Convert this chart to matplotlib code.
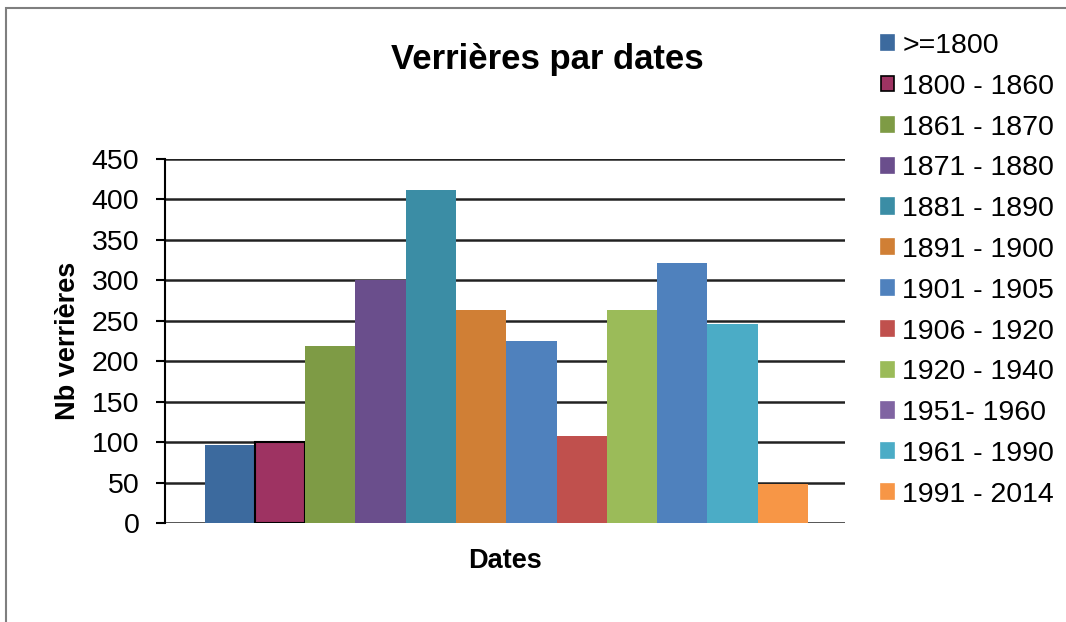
import matplotlib.pyplot as plt
import matplotlib.patches as mpatches
import numpy as np

# ---------------------------------------------------------
# Data
# ---------------------------------------------------------
periods = [">=1800", "1800 - 1860", "1861 - 1870", "1871 - 1880",
           "1881 - 1890", "1891 - 1900", "1901 - 1905", "1906 - 1920",
           "1920 - 1940", "1951- 1960", "1961 - 1990", "1991 - 2014"]
counts = [97, 100, 219, 300, 412, 263, 225, 108, 263, 321, 246, 48]

bar_colors = ["#3C6A9E", "#9E3362", "#7E9B45", "#6A4E8C", "#3B8DA5", "#D07F35",
              "#4F81BD", "#C0504D", "#9BBB59", "#4F81BD", "#4BACC6", "#F79646"]
legend_colors = ["#3C6A9E", "#9E3362", "#7E9B45", "#6A4E8C", "#3B8DA5", "#D07F35",
                 "#4F81BD", "#C0504D", "#9BBB59", "#8064A2", "#4BACC6", "#F79646"]
edge_colors = ["none", "black"] + ["none"] * 10

yticks = [0, 50, 100, 150, 200, 250, 300, 350, 400, 450]

plt.rcParams['font.family'] = ['Liberation Sans', 'DejaVu Sans']

# ---------------------------------------------------------
# Figure
# ---------------------------------------------------------
fig = plt.figure(figsize=(10.66, 6.22), dpi=100)
ax = fig.add_axes([0.1548, 0.1592, 0.6379, 0.5852])

x = np.arange(len(counts))
ax.bar(x, counts, width=1.0, color=bar_colors, edgecolor=edge_colors,
       linewidth=1.5, zorder=3)

ax.set_ylim(0, 450)
ax.set_xlim(-0.5 - 0.79, len(counts) - 0.5 + 0.74)
ax.set_yticks(yticks)
ax.set_xticks([])
ax.yaxis.grid(True, color="#222222", linewidth=1.8, zorder=0)
ax.tick_params(axis='y', length=6.5, width=1.5, labelsize=20.5, pad=12)

for side in ["top", "right", "bottom"]:
    ax.spines[side].set_visible(False)
ax.spines["left"].set_linewidth(1.5)

ax.set_ylabel("Nb verrières", fontsize=19.5, fontweight="bold", labelpad=8)
ax.set_xlabel("Dates", fontsize=19.5, fontweight="bold", labelpad=18)
fig.text(0.513, 0.905, "Verrières par dates", fontsize=25, fontweight="bold",
         ha="center", va="center")

handles = [mpatches.Patch(facecolor=c, edgecolor=("black" if i == 1 else c),
                          linewidth=1.2)
           for i, c in enumerate(legend_colors)]
fig.legend(handles, periods, loc="upper left", bbox_to_anchor=(0.813, 0.97),
           frameon=False, fontsize=20.5, handlelength=0.45, handleheight=0.45,
           handletextpad=0.3, labelspacing=0.52, borderpad=0)

# outer chart frame
frame = mpatches.Rectangle((0.006, -0.1), 1.2, 1.1 - 8 / 622, transform=fig.transFigure,
                           fill=False, edgecolor="#7f7f7f", linewidth=1.5)
fig.patches.append(frame)

fig.savefig("out.png", dpi=100)
